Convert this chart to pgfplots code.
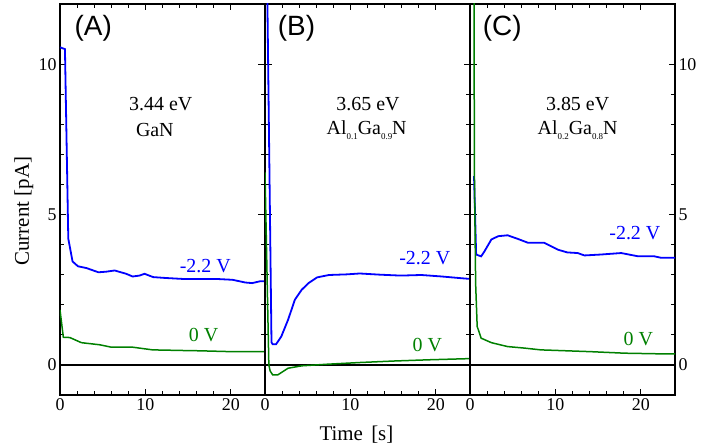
\documentclass[border=0pt]{standalone}
\usepackage{fontspec}
\setmainfont{Liberation Serif}
\newfontfamily\arialfont{Liberation Sans}
\usepackage{pgfplots}
\pgfplotsset{compat=1.18}
\definecolor{cblue}{RGB}{0,0,255}
\definecolor{cgreen}{RGB}{0,128,0}

\newcommand\sub[1]{\raisebox{-0.25em}{\fontsize{9}{9}\selectfont #1}}
\newcommand\lbl{\fontsize{20}{20}\selectfont}

\pgfplotsset{panel/.style={
  scale only axis, width=205bp, height=391bp,
  xmin=0, xmax=24, ymin=-1, ymax=12,
  xtick={0,10,20}, ytick={0,5,10},
  minor x tick num=4, minor y tick num=4,
  tick align=inside,
  major tick length=6.5bp, minor tick length=4bp,
  axis line style={line width=1.2bp},
  every tick/.style={black, line width=1.1bp},
  tick label style={font=\fontsize{18}{18}\selectfont},
  /pgf/number format/assume math mode=true,
  anchor=south west,
}}

\begin{document}
\begin{tikzpicture}
\useasboundingbox (-60bp,-51bp) rectangle (641bp,395bp);

% (A) GaN
\begin{axis}[panel, at={(0bp,0bp)},
  yticklabel pos=left,
  ylabel={Current [pA]},
  ylabel style={font=\fontsize{21}{21}\selectfont, at={(axis description cs:-0.176,0.47)}, anchor=center},
]
\addplot[black, line width=1.2bp, forget plot] coordinates {(0,0) (24,0)};
\addplot[cblue, line width=1.8bp] coordinates {
  (0,10.56) (0.58,10.5) (0.97,4.2) (1.47,3.44) (2.1,3.28) (3.1,3.22) (4.5,3.08)
  (5.4,3.1) (6.4,3.14) (7.75,3.03) (8.5,2.94) (9.3,2.97) (9.9,3.03) (10.9,2.92)
  (12.4,2.89) (14.3,2.86) (16.3,2.86) (18.2,2.86) (20.2,2.83) (21.7,2.74)
  (22.5,2.72) (23.4,2.78) (24,2.78)
};
\addplot[cgreen, line width=1.5bp] coordinates {
  (0,1.83) (0.39,0.92) (1.16,0.91) (2.5,0.74) (4.65,0.67) (6,0.59) (8.5,0.59)
  (10.85,0.5) (14.3,0.48) (16.3,0.47) (20.2,0.44) (24,0.44)
};
\node[anchor=west, font=\arialfont\fontsize{28}{28}\selectfont] at (axis cs:1.3,11.2) {(A)};
\node[font=\lbl] at (axis cs:11.8,8.67) {3.44 eV};
\node[font=\lbl] at (axis cs:11.1,7.8) {GaN};
\node[font=\lbl, text=cblue] at (axis cs:17.0,3.3) {-2.2 V};
\node[font=\lbl, text=cgreen] at (axis cs:16.8,1.0) {0 V};
\end{axis}

% (B) Al0.1Ga0.9N
\begin{axis}[panel, at={(205bp,0bp)},
  yticklabels={},
  xlabel={Time\hspace{0.4em}[s]},
  xlabel style={font=\fontsize{21}{21}\selectfont, at={(axis description cs:0.446,-0.102)}, anchor=center},
]
\addplot[black, line width=1.2bp, forget plot] coordinates {(0,0) (24,0)};
\addplot[cblue, line width=1.8bp] coordinates {
  (0.2,14) (0.76,0.75) (0.9,0.69) (1.3,0.69) (1.9,0.94) (2.7,1.5) (3.5,2.17)
  (4.3,2.5) (5.1,2.72) (6.1,2.91) (7.5,2.99) (9.5,3.01) (11.1,3.04) (13.5,3.0)
  (15.9,2.97) (18.3,2.99) (20.7,2.94) (23.1,2.88) (24,2.86)
};
\addplot[cgreen, line width=1.5bp] coordinates {
  (0,6.4) (0.45,0.0) (0.6,-0.2) (0.9,-0.33) (1.5,-0.33) (2.7,-0.11) (4.3,-0.03)
  (7.1,0.02) (11.1,0.08) (15.1,0.13) (19.1,0.17) (24,0.21)
};
\node[anchor=west, font=\arialfont\fontsize{28}{28}\selectfont] at (axis cs:1.1,11.2) {(B)};
\node[font=\lbl] at (axis cs:12.06,8.67) {3.65 eV};
\node[font=\lbl] at (axis cs:11.9,7.8) {Al\sub{0.1}Ga\sub{0.9}N};
\node[font=\lbl, text=cblue] at (axis cs:18.7,3.55) {-2.2 V};
\node[font=\lbl, text=cgreen] at (axis cs:19.0,0.67) {0 V};
\end{axis}

% (C) Al0.2Ga0.8N
\begin{axis}[panel, at={(410bp,0bp)},
  yticklabel pos=right,
]
\addplot[black, line width=1.2bp, forget plot] coordinates {(0,0) (24,0)};
\addplot[cblue, line width=1.8bp] coordinates {
  (0.47,6.28) (0.72,3.67) (1.3,3.61) (1.7,3.78) (2.5,4.17) (3.3,4.28) (4.4,4.31)
  (5.6,4.19) (6.8,4.06) (8.7,4.06) (10.3,3.83) (11.4,3.74) (12.6,3.72) (13.4,3.64)
  (15.3,3.67) (17.7,3.72) (19.7,3.61) (21.6,3.61) (22.4,3.56) (24,3.56)
};
\addplot[cgreen, line width=1.5bp] coordinates {
  (0.45,14) (0.52,6.3) (0.66,2.7) (0.84,1.28) (1.3,0.89) (2.5,0.74) (4.4,0.61)
  (6.35,0.56) (8.3,0.5) (10.3,0.48) (14.2,0.44) (18.1,0.39) (22,0.37) (24,0.37)
};
\node[anchor=west, font=\arialfont\fontsize{28}{28}\selectfont] at (axis cs:1.1,11.2) {(C)};
\node[font=\lbl] at (axis cs:12.6,8.67) {3.85 eV};
\node[font=\lbl] at (axis cs:12.6,7.8) {Al\sub{0.2}Ga\sub{0.8}N};
\node[font=\lbl, text=cblue] at (axis cs:19.3,4.4) {-2.2 V};
\node[font=\lbl, text=cgreen] at (axis cs:19.7,0.87) {0 V};
\end{axis}
\end{tikzpicture}
\end{document}
